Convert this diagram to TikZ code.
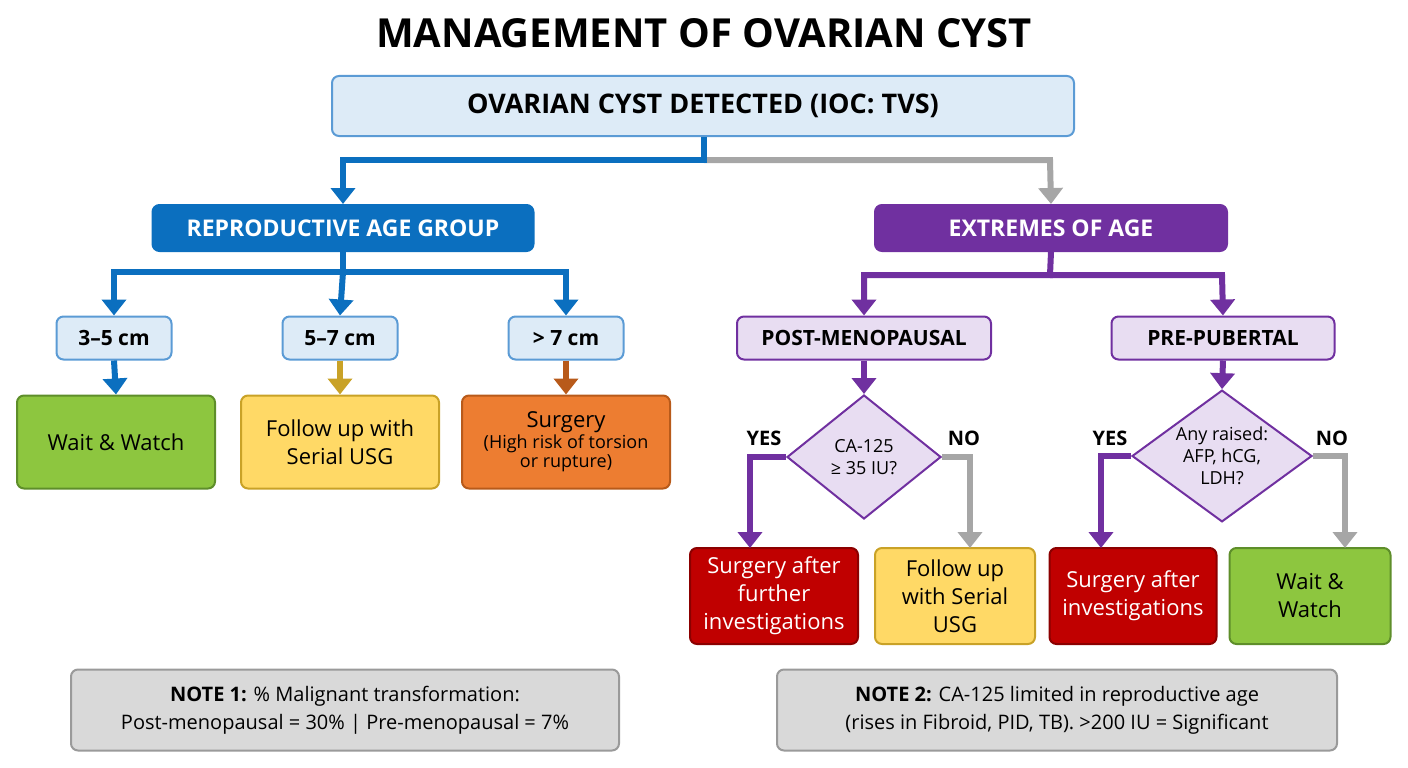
\documentclass[tikz,border=0pt]{standalone}
\usepackage{fontspec}
\setmainfont{Open Sans}
\usetikzlibrary{shapes.geometric,arrows.meta,calc}
\definecolor{lb}{HTML}{DDEBF7}\definecolor{bb}{HTML}{5B9BD5}
\definecolor{rb}{HTML}{0B6FBF}\definecolor{pu}{HTML}{7030A0}
\definecolor{lp}{HTML}{E8DDF2}\definecolor{gr}{HTML}{8DC63F}
\definecolor{grb}{HTML}{5E8E2A}\definecolor{ye}{HTML}{FFD966}
\definecolor{yeb}{HTML}{C9A227}\definecolor{or}{HTML}{ED7D31}
\definecolor{orb}{HTML}{B85A1A}\definecolor{re}{HTML}{C00000}
\definecolor{reb}{HTML}{8B0000}\definecolor{ng}{HTML}{D9D9D9}
\definecolor{ngb}{HTML}{9A9A9A}\definecolor{gy}{HTML}{A6A6A6}
\begin{document}
\begin{tikzpicture}[x=1pt,y=-1pt,
box/.style={rounded corners=7pt,line width=2pt,align=center,inner sep=2pt},
lbox/.style={box,fill=lb,draw=bb,font=\fontsize{21}{24}\selectfont\bfseries},
pbox/.style={box,fill=lp,draw=pu,font=\fontsize{21}{24}\selectfont\bfseries},
obox/.style={box,font=\fontsize{22}{28}\selectfont},
dia/.style={diamond,aspect=1.25,fill=lp,draw=pu,line width=2pt,align=center,inner sep=0pt,font=\fontsize{18}{22}\selectfont},
con/.style={line width=6pt,-{Triangle[width=24pt,length=16pt]}},
lab/.style={font=\fontsize{20}{22}\selectfont\bfseries}]
\path[use as bounding box] (0,0) rectangle (1408,768);
\node (title) at (704,33) {\fontsize{40}{46}\selectfont\bfseries MANAGEMENT OF OVARIAN CYST};
\node[lbox,minimum width=742pt,minimum height=60pt,font=\fontsize{27}{30}\selectfont\bfseries] (top) at (703,106) {OVARIAN CYST DETECTED (IOC: TVS)};
\node[box,fill=rb,draw=rb,text=white,minimum width=381pt,minimum height=46pt,font=\fontsize{23}{26}\selectfont\bfseries] (rep) at (343,228) {REPRODUCTIVE AGE GROUP};
\node[box,fill=pu,draw=pu,text=white,minimum width=352pt,minimum height=46pt,font=\fontsize{23}{26}\selectfont\bfseries] (ext) at (1051,228) {EXTREMES OF AGE};
\coordinate (j1) at (704,160);
\draw[con,gy] (j1) -- (1050,160) -- (ext.north);
\draw[con,rb] (top.south -| j1) -- (j1) -- (343,160) -- (rep.north);
\node[lbox,minimum width=115pt,minimum height=43pt] (a) at (114,338) {3–5 cm};
\node[lbox,minimum width=115pt,minimum height=43pt] (b) at (340,338) {5–7 cm};
\node[lbox,minimum width=115pt,minimum height=43pt] (c) at (566,338) {> 7 cm};
\coordinate (j2) at (343,272);
\draw[con,rb] (rep.south) -- (j2) -- (114,272) -- (a.north);
\draw[con,rb] (j2) -- (b.north);
\draw[con,rb] (j2) -- (566,272) -- (c.north);
\node[obox,fill=gr,draw=grb,minimum width=198pt,minimum height=93pt] (ww) at (116,442) {Wait \& Watch};
\node[obox,fill=ye,draw=yeb,minimum width=198pt,minimum height=93pt] (fu) at (340,442) {Follow up with\\Serial USG};
\node[obox,fill=or,draw=orb,minimum width=208pt,minimum height=93pt,font=\fontsize{22}{22}\selectfont] (su) at (566,442) {Surgery\\[-1pt]{\fontsize{18}{22}\selectfont (High risk of torsion}\\[-3pt]{\fontsize{18}{22}\selectfont or rupture)}};
\draw[con,rb] (a.south) -- (ww.north);
\draw[con,yeb] (b.south) -- (fu.north);
\draw[con,orb] (c.south) -- (su.north);
\node[pbox,minimum width=254pt,minimum height=43pt] (post) at (864,338) {POST-MENOPAUSAL};
\node[pbox,minimum width=223pt,minimum height=43pt] (pre) at (1223,338) {PRE-PUBERTAL};
\coordinate (j3) at (1050,275);
\draw[con,pu] (ext.south) -- (j3) -- (864,275) -- (post.north);
\draw[con,pu] (j3) -- (1222,275) -- (pre.north);
\node[dia,minimum width=154pt,minimum height=124pt] (d1) at (864,457) {CA-125\\≥ 35 IU?};
\node[dia,minimum width=180pt,minimum height=128pt] (d2) at (1222,456) {Any raised:\\AFP, hCG,\\LDH?};
\draw[con,pu] (post.south) -- (d1.north);
\draw[con,pu] (pre.south) -- (d2.north);
\node[obox,fill=re,draw=reb,text=white,minimum width=168pt,minimum height=96pt] (s1) at (774,596) {Surgery after\\further\\investigations};
\node[obox,fill=ye,draw=yeb,minimum width=160pt,minimum height=96pt] (f1) at (955,596) {Follow up\\with Serial\\USG};
\node[obox,fill=re,draw=reb,text=white,minimum width=167pt,minimum height=96pt] (s2) at (1133,596) {Surgery after\\investigations};
\node[obox,fill=gr,draw=grb,minimum width=161pt,minimum height=96pt] (w2) at (1310,596) {Wait \&\\Watch};
\coordinate (e1) at (750,548);\coordinate (e2) at (970,548);
\coordinate (e3) at (1101,548);\coordinate (e4) at (1345,548);
\draw[con,pu] (d1.west) -| (e1);
\draw[con,gy] (d1.east) -| (e2);
\draw[con,pu] (d2.west) -| (e3);
\draw[con,gy] (d2.east) -| (e4);
\node[lab] (y1) at (764,438) {YES};
\node[lab] (n1) at (964,438) {NO};
\node[lab] (y2) at (1110,438) {YES};
\node[lab] (n2) at (1332,438) {NO};
\node[box,fill=ng,draw=ngb,minimum width=548pt,minimum height=81pt,font=\fontsize{20}{28}\selectfont] (n1b) at (345,710) {\textbf{NOTE 1:} \% Malignant transformation:\\Post-menopausal = 30\% | Pre-menopausal = 7\%};
\node[box,fill=ng,draw=ngb,minimum width=560pt,minimum height=81pt,font=\fontsize{20}{28}\selectfont] (n2b) at (1057,710) {\textbf{NOTE 2:} CA-125 limited in reproductive age\\(rises in Fibroid, PID, TB). >200 IU = Significant};
\end{tikzpicture}
\end{document}
